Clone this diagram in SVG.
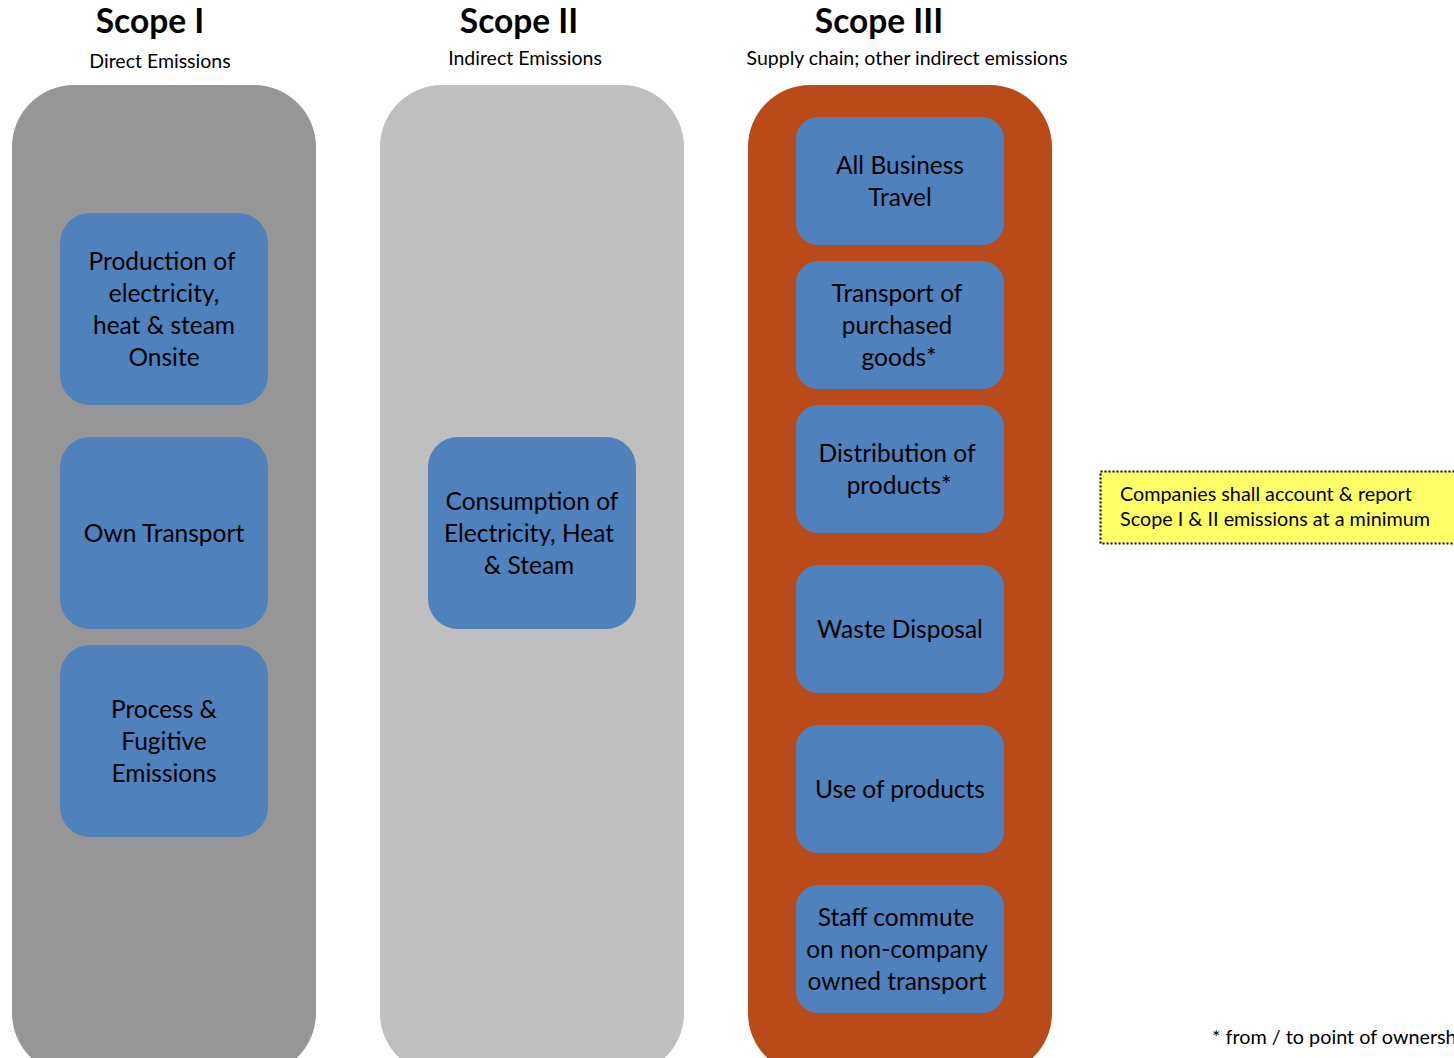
<svg xmlns="http://www.w3.org/2000/svg" width="1454" height="1058" viewBox="0 0 1454 1058">
<style>
text{font-family:Lato,"Open Sans","Liberation Sans",sans-serif;fill:#000;text-anchor:middle}
.title{font-size:33.5px;font-weight:bold}
.sub{font-size:19.5px}
.box{fill:#4F81BD}
.bt{font-size:24.5px}
.note{font-size:19.8px;text-anchor:start}
</style>
<rect width="1454" height="1058" fill="#fff"/>
<g id="scope1">
<text class="title" x="150" y="33">Scope I</text>
<text class="sub" x="160" y="68">Direct Emissions</text>
<rect x="12" y="85" width="304" height="990" rx="62" ry="62" fill="#969696"/>
</g>
<g id="scope2">
<text class="title" x="519" y="33">Scope II</text>
<text class="sub" x="525" y="65">Indirect Emissions</text>
<rect x="380" y="85" width="304" height="990" rx="62" ry="62" fill="#BFBFBF"/>
</g>
<g id="scope3">
<text class="title" x="879" y="33">Scope III</text>
<text class="sub" x="907" y="65">Supply chain; other indirect emissions</text>
<rect x="748" y="85" width="304" height="990" rx="62" ry="62" fill="#B94B1B"/>
</g>
<g id="n-production">
<rect class="box" x="60" y="213" width="208" height="192" rx="30"/>
<text class="bt" x="162" y="270">Production of</text>
<text class="bt" x="164" y="302">electricity,</text>
<text class="bt" x="164" y="334">heat &amp; steam</text>
<text class="bt" x="164" y="366">Onsite</text>
</g>
<g id="n-owntransport">
<rect class="box" x="60" y="437" width="208" height="192" rx="30"/>
<text class="bt" x="164" y="542">Own Transport</text>
</g>
<g id="n-process">
<rect class="box" x="60" y="645" width="208" height="192" rx="30"/>
<text class="bt" x="164" y="718">Process &amp;</text>
<text class="bt" x="164" y="750">Fugitive</text>
<text class="bt" x="164" y="782">Emissions</text>
</g>
<g id="n-consumption">
<rect class="box" x="428" y="437" width="208" height="192" rx="30"/>
<text class="bt" x="532" y="510">Consumption of</text>
<text class="bt" x="529" y="542">Electricity, Heat</text>
<text class="bt" x="529" y="574">&amp; Steam</text>
</g>
<g id="n-travel">
<rect class="box" x="796" y="117" width="208" height="128" rx="22"/>
<text class="bt" x="900" y="174">All Business</text>
<text class="bt" x="900" y="206">Travel</text>
</g>
<g id="n-transport">
<rect class="box" x="796" y="261" width="208" height="128" rx="22"/>
<text class="bt" x="897" y="302">Transport of</text>
<text class="bt" x="897" y="334">purchased</text>
<text class="bt" x="899" y="366">goods*</text>
</g>
<g id="n-distribution">
<rect class="box" x="796" y="405" width="208" height="128" rx="22"/>
<text class="bt" x="897" y="462">Distribution of</text>
<text class="bt" x="899" y="494">products*</text>
</g>
<g id="n-waste">
<rect class="box" x="796" y="565" width="208" height="128" rx="22"/>
<text class="bt" x="900" y="638">Waste Disposal</text>
</g>
<g id="n-use">
<rect class="box" x="796" y="725" width="208" height="128" rx="22"/>
<text class="bt" x="900" y="798">Use of products</text>
</g>
<g id="n-staff">
<rect class="box" x="796" y="885" width="208" height="128" rx="22"/>
<text class="bt" x="896" y="926">Staff commute</text>
<text class="bt" x="897" y="958">on non-company</text>
<text class="bt" x="897" y="990">owned transport</text>
</g>
<g id="note">
<rect x="1100.5" y="471.5" width="370" height="72" fill="#FFFF66" stroke="#000" stroke-width="2" stroke-dasharray="2,2"/>
<text class="note" x="1120" y="501">Companies shall account &amp; report</text>
<text class="note" x="1120" y="526">Scope I &amp; II emissions at a minimum</text>
</g>
<g id="connectors"></g>
<text class="note" x="1212" y="1044">* from / to point of ownership</text>
</svg>
